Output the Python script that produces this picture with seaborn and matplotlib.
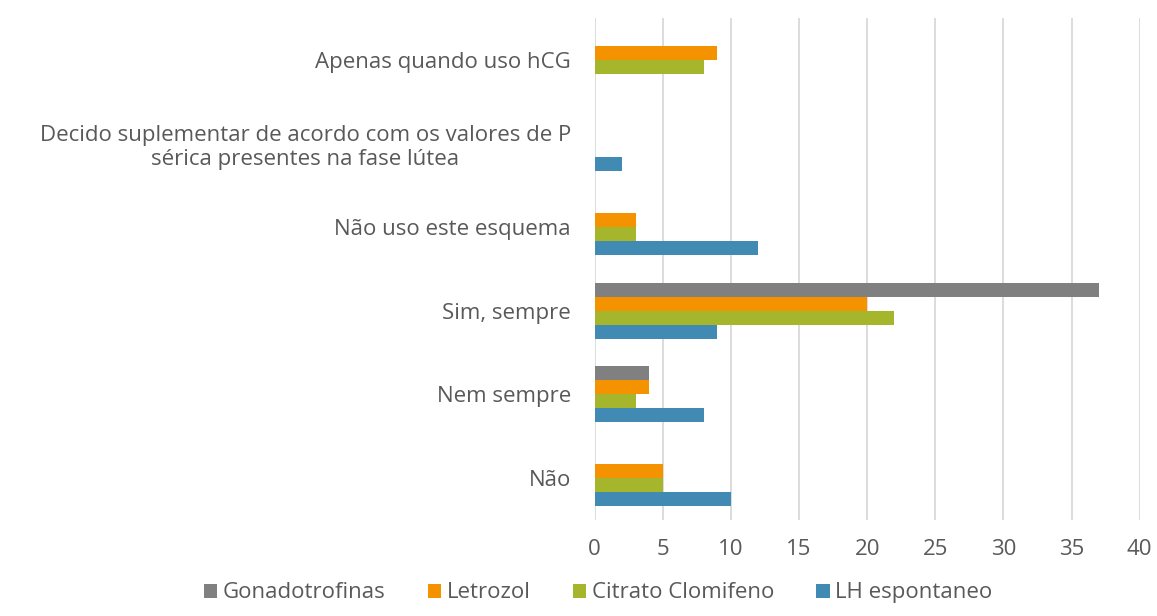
import matplotlib
matplotlib.use("Agg")
import matplotlib.pyplot as plt
import pandas as pd
import seaborn as sns

categories = [
    "Apenas quando uso hCG",
    "Decido suplementar de acordo com os valores de P\nsérica presentes na fase lútea",
    "Não uso este esquema",
    "Sim, sempre",
    "Nem sempre",
    "Não",
]
series = ["Gonadotrofinas", "Letrozol", "Citrato Clomifeno", "LH espontaneo"]
gonadotrofinas = [0, 0, 0, 37, 4, 0]
letrozol = [9, 0, 3, 20, 4, 5]
citrato = [8, 0, 3, 22, 3, 5]
lh_espontaneo = [0, 2, 12, 9, 8, 10]
colors = ["#808080", "#f59200", "#a6b62c", "#408ab4"]

rows = []
for name, vals in zip(series, [gonadotrofinas, letrozol, citrato, lh_espontaneo]):
    for cat, v in zip(categories, vals):
        rows.append({"categoria": cat, "serie": name, "valor": v})
df = pd.DataFrame(rows)

sns.set_style("white")
plt.rcParams["font.family"] = ["Open Sans", "DejaVu Sans"]
text_color = "#595959"
fs = 16

fig = plt.figure(figsize=(11.57, 6.16), dpi=100)
ax = fig.add_axes([0.514, 0.156, 0.471, 0.815])

sns.barplot(
    data=df, x="valor", y="categoria", hue="serie",
    order=categories, hue_order=series, palette=colors, saturation=1,
    orient="h", width=0.67, gap=0, dodge=True,
    linewidth=0, ax=ax,
)

ax.set_xlim(0, 40)
ax.set_xticks(range(0, 41, 5))
ax.grid(axis="x", color="#d9d9d9", linewidth=1.3)
ax.set_axisbelow(True)
for s in ax.spines.values():
    s.set_visible(False)
ax.tick_params(axis="both", length=0, colors=text_color, labelsize=fs)
ax.tick_params(axis="x", pad=14)
ax.tick_params(axis="y", pad=17)
for lbl in ax.get_yticklabels():
    lbl.set_multialignment("center")
ax.set_xlabel("")
ax.set_ylabel("")

handles, labels = ax.get_legend_handles_labels()
ax.legend_.remove()
fig.legend(
    handles, labels, loc="lower center", ncol=4, frameon=False,
    bbox_to_anchor=(0.517, -0.012), fontsize=fs, labelcolor=text_color,
    handlelength=0.6, handleheight=0.6, handletextpad=0.25, columnspacing=1.9,
)

fig.savefig("out.png", dpi=100)
